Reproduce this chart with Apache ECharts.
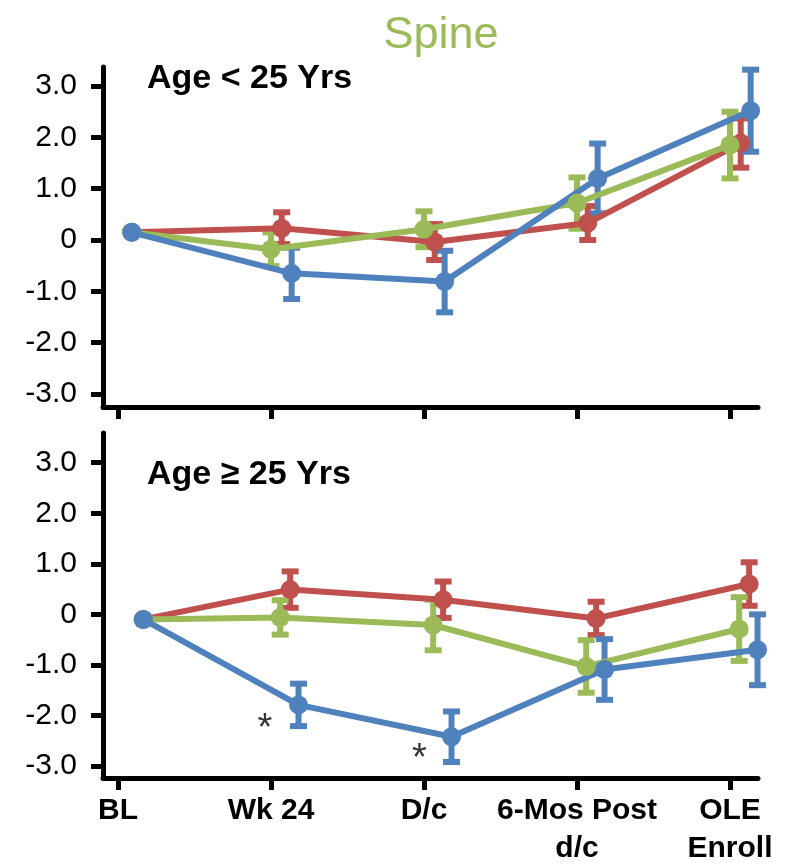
<!DOCTYPE html>
<html>
<head>
<meta charset="utf-8">
<script src="https://cdn.jsdelivr.net/npm/echarts@6/dist/echarts.min.js"></script>
<style>
  html, body { margin: 0; padding: 0; background: #fff; }
  #chart { width: 786px; height: 868px; }
</style>
</head>
<body>
<div id="chart"></div>
<script>
// time points
const categories = ['BL', 'Wk 24', 'D/c', '6-Mos Post\nd/c', 'OLE\nEnroll']
const yTicks = [-3, -2, -1, 0, 1, 2, 3]

// Age < 25 Yrs
const youngRed = [0.15, 0.23, -0.04, 0.33, 1.89]
const youngRedErr = [null, 0.31, 0.35, 0.33, 0.48]
const youngGreen = [0.15, -0.18, 0.21, 0.72, 1.85]
const youngGreenErr = [null, 0.33, 0.35, 0.5, 0.65]
const youngBlue = [0.15, -0.65, -0.81, 1.2, 2.52]
const youngBlueErr = [null, 0.5, 0.6, 0.68, 0.8]

// Age >= 25 Yrs
const oldRed = [-0.1, 0.49, 0.29, -0.08, 0.6]
const oldRedErr = [null, 0.36, 0.36, 0.33, 0.43]
const oldGreen = [-0.1, -0.06, -0.21, -1.03, -0.29]
const oldGreenErr = [null, 0.34, 0.5, 0.52, 0.63]
const oldBlue = [-0.1, -1.79, -2.42, -1.09, -0.7]
const oldBlueErr = [null, 0.42, 0.5, 0.6, 0.7]

// significance markers (bottom panel)
const starX = [0.96, 1.97]
const starY = [-2.28, -2.88]

const RED = '#c0504d', GREEN = '#9bbb59', BLUE = '#4f81bd'
const FONT = '"Liberation Sans", Arial, sans-serif'

// small horizontal dodge so the groups don't sit on top of each other
const dodge = [
  { bl: 0.09, red: 0.07, green: 0.0, blue: 0.135 },
  { bl: 0.165, red: 0.125, green: 0.06, blue: 0.18 }
]

function makeSeries(g, vals, errs, color, off, blOff) {
  const pts = vals.map((v, i) => [i + (i === 0 ? blOff : off), v])
  const bars = []
  vals.forEach((v, i) => {
    if (errs[i] != null) bars.push([i + off, v, errs[i]])
  })
  return [
    {
      type: 'custom',
      xAxisIndex: g, yAxisIndex: g,
      data: bars,
      z: 2,
      clip: false,
      renderItem: (params, api) => {
        const x = api.value(0), y = api.value(1), e = api.value(2)
        const top = api.coord([x, y + e])
        const bot = api.coord([x, y - e])
        const cap = 8.5
        const style = { stroke: color, lineWidth: 6 }
        return {
          type: 'group',
          children: [
            { type: 'line', shape: { x1: top[0], y1: top[1], x2: bot[0], y2: bot[1] }, style },
            { type: 'line', shape: { x1: top[0] - cap, y1: top[1], x2: top[0] + cap, y2: top[1] }, style },
            { type: 'line', shape: { x1: bot[0] - cap, y1: bot[1], x2: bot[0] + cap, y2: bot[1] }, style }
          ]
        }
      }
    },
    {
      type: 'line',
      xAxisIndex: g, yAxisIndex: g,
      data: pts,
      z: 3,
      clip: false,
      symbol: 'circle',
      symbolSize: 19,
      lineStyle: { width: 6, color },
      itemStyle: { color }
    }
  ]
}

function xAxis(g) {
  return {
    type: 'value', gridIndex: g,
    min: -0.098, max: 4.183,
    axisLine: { show: true, onZero: false, lineStyle: { color: '#000', width: 5 } },
    axisTick: { show: true, customValues: [0, 1, 2, 3, 4], length: 12, lineStyle: { color: '#000', width: 5 } },
    axisLabel: {
      show: g === 1,
      customValues: [0, 1, 2, 3, 4],
      formatter: v => categories[Math.round(v)],
      fontFamily: FONT, fontSize: 30, fontWeight: 'bold', color: '#000',
      margin: 14, lineHeight: 38
    },
    splitLine: { show: false }
  }
}

function yAxis(g, min, max) {
  return {
    type: 'value', gridIndex: g,
    min, max,
    axisLine: { show: true, onZero: false, lineStyle: { color: '#000', width: 5 } },
    axisTick: { show: true, customValues: yTicks, length: 12, lineStyle: { color: '#000', width: 5 } },
    axisLabel: {
      customValues: yTicks,
      formatter: v => v === 0 ? '0' : v.toFixed(1),
      fontFamily: FONT, fontSize: 30, color: '#000', margin: 26
    },
    splitLine: { show: false }
  }
}

const chart = echarts.init(document.getElementById('chart'))
chart.setOption({
  animation: false,
  backgroundColor: '#fff',
  title: {
    text: 'Spine',
    left: 436, top: 8, textAlign: 'center',
    textStyle: { fontFamily: FONT, fontSize: 45, fontWeight: 'normal', color: GREEN }
  },
  graphic: [
    { type: 'text', left: 147, top: 62, style: { text: 'Age < 25 Yrs', font: 'bold 34px ' + FONT, fill: '#000' } },
    { type: 'text', left: 147, top: 458, style: { text: 'Age ≥ 25 Yrs', font: 'bold 34px ' + FONT, fill: '#000' } }
  ],
  grid: [
    { left: 103, top: 67, width: 655, height: 340 },
    { left: 103, top: 433, width: 655, height: 350 }
  ],
  xAxis: [xAxis(0), xAxis(1)],
  yAxis: [yAxis(0, -3.255, 3.372), yAxis(1, -3.236, 3.587)],
  series: [
    ...makeSeries(0, youngRed, youngRedErr, RED, dodge[0].red, dodge[0].bl),
    ...makeSeries(0, youngGreen, youngGreenErr, GREEN, dodge[0].green, dodge[0].bl),
    ...makeSeries(0, youngBlue, youngBlueErr, BLUE, dodge[0].blue, dodge[0].bl),
    ...makeSeries(1, oldRed, oldRedErr, RED, dodge[1].red, dodge[1].bl),
    ...makeSeries(1, oldGreen, oldGreenErr, GREEN, dodge[1].green, dodge[1].bl),
    ...makeSeries(1, oldBlue, oldBlueErr, BLUE, dodge[1].blue, dodge[1].bl),
    {
      type: 'scatter',
      xAxisIndex: 1, yAxisIndex: 1,
      data: starX.map((x, i) => [x, starY[i]]),
      symbolSize: 1,
      itemStyle: { color: 'rgba(0,0,0,0)' },
      label: { show: true, position: 'inside', formatter: '*', fontFamily: FONT, fontSize: 38, color: '#000' }
    }
  ]
})
</script>
</body>
</html>
